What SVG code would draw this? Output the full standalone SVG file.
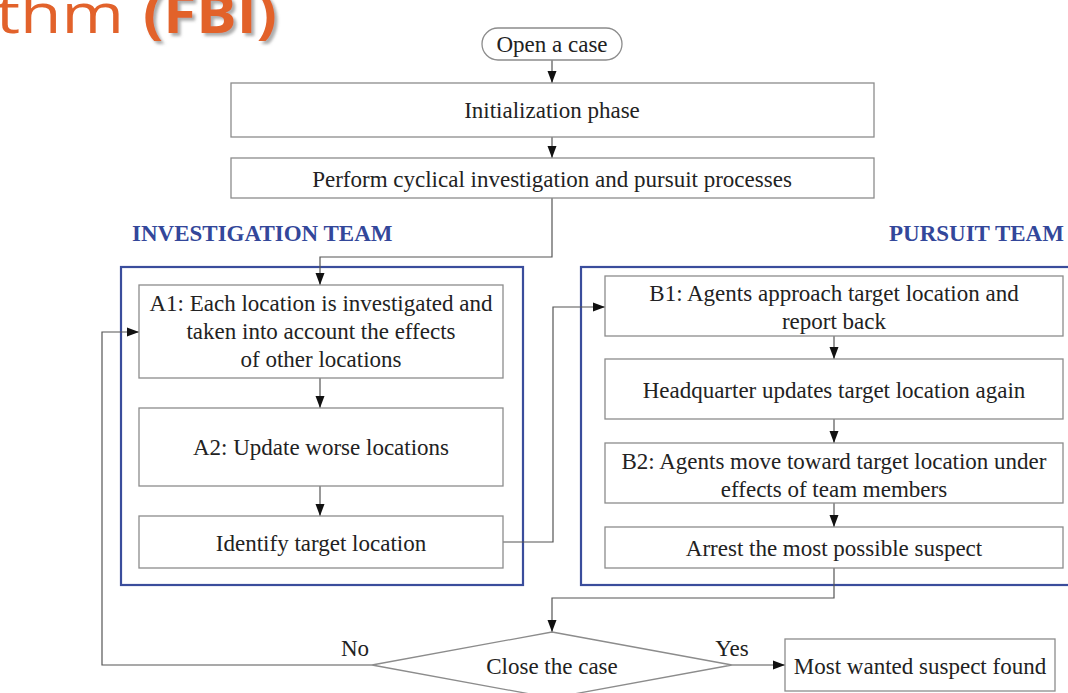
<svg xmlns="http://www.w3.org/2000/svg" width="1068" height="693" viewBox="0 0 1068 693">
<defs>
<marker id="arr" markerUnits="userSpaceOnUse" markerWidth="12" markerHeight="12" viewBox="0 0 12 12" refX="12" refY="6" orient="auto">
<path d="M0,1.5 L12,6 L0,10.5 Z" fill="#111"/>
</marker>
<filter id="sh" x="-10%" y="-10%" width="130%" height="140%">
<feDropShadow dx="3" dy="3" stdDeviation="1.5" flood-color="#777" flood-opacity="0.6"/>
</filter>
<style>
.box{fill:#fff;stroke:#8c8c8c;stroke-width:1.3}
.team{fill:none;stroke:#3a4d9c;stroke-width:2.2}
.t{font-family:"Liberation Serif","Times New Roman",serif;font-size:23px;fill:#222;text-anchor:middle}
.h{font-family:"Liberation Serif","Times New Roman",serif;font-size:23px;font-weight:bold;fill:#33479a}
.c{fill:none;stroke:#555;stroke-width:1.2}
.ca{fill:none;stroke:#555;stroke-width:1.2;marker-end:url(#arr)}
.title{font-family:"Open Sans","DejaVu Sans",sans-serif;font-size:54px;fill:#e2622b}
</style>
</defs>
<rect width="1068" height="693" fill="#fff"/>

<g id="title">
<text class="title" x="-4" y="33" textLength="128" lengthAdjust="spacingAndGlyphs">thm</text>
<text class="title" x="143" y="33" font-weight="bold" filter="url(#sh)" textLength="134" lengthAdjust="spacingAndGlyphs">(FBI)</text>
</g>

<g id="team-labels">
<text class="h" x="132" y="241">INVESTIGATION TEAM</text>
<text class="h" x="889" y="241">PURSUIT TEAM</text>
</g>

<g id="investigation-team"><rect class="team" x="121" y="267" width="402" height="318"/></g>
<g id="pursuit-team"><rect class="team" x="581" y="267" width="500" height="318"/></g>

<g id="connectors">
<line class="ca" x1="552" y1="60" x2="552" y2="83"/>
<line class="ca" x1="552" y1="137" x2="552" y2="158"/>
<polyline class="ca" points="552,198 552,257 320,257 320,285"/>
<line class="ca" x1="320" y1="378" x2="320" y2="408"/>
<line class="ca" x1="320" y1="486" x2="320" y2="516"/>
<polyline class="ca" points="503,542 553,542 553,307 605,307"/>
<line class="ca" x1="834" y1="336" x2="834" y2="359"/>
<line class="ca" x1="834" y1="419" x2="834" y2="443"/>
<line class="ca" x1="834" y1="503" x2="834" y2="527"/>
<polyline class="ca" points="834,568 834,598 552,598 552,632"/>
<polyline class="ca" points="372,665 102,665 102,332 139,332"/>
<line class="ca" x1="732" y1="665" x2="785" y2="665"/>
</g>

<g id="open-case">
<rect class="box" x="482" y="28" width="140" height="32" rx="16" ry="16"/>
<text class="t" x="552" y="52">Open a case</text>
</g>
<g id="init">
<rect class="box" x="231" y="83" width="643" height="54"/>
<text class="t" x="552" y="118">Initialization phase</text>
</g>
<g id="perform">
<rect class="box" x="231" y="158" width="643" height="40"/>
<text class="t" x="552" y="187">Perform cyclical investigation and pursuit processes</text>
</g>
<g id="a1">
<rect class="box" x="139" y="285" width="364" height="93"/>
<text class="t" x="321" y="311">A1: Each location is investigated and</text>
<text class="t" x="321" y="339">taken into account the effects</text>
<text class="t" x="321" y="367">of other locations</text>
</g>
<g id="a2">
<rect class="box" x="139" y="408" width="364" height="78"/>
<text class="t" x="321" y="455">A2: Update worse locations</text>
</g>
<g id="identify">
<rect class="box" x="139" y="516" width="364" height="52"/>
<text class="t" x="321" y="551">Identify target location</text>
</g>
<g id="b1">
<rect class="box" x="605" y="276" width="458" height="60"/>
<text class="t" x="834" y="301">B1: Agents approach target location and</text>
<text class="t" x="834" y="329">report back</text>
</g>
<g id="hq">
<rect class="box" x="605" y="359" width="458" height="60"/>
<text class="t" x="834" y="398">Headquarter updates target location again</text>
</g>
<g id="b2">
<rect class="box" x="605" y="443" width="458" height="60"/>
<text class="t" x="834" y="469">B2: Agents move toward target location under</text>
<text class="t" x="834" y="497">effects of team members</text>
</g>
<g id="arrest">
<rect class="box" x="605" y="527" width="458" height="41"/>
<text class="t" x="834" y="556">Arrest the most possible suspect</text>
</g>
<g id="close">
<polygon class="box" points="552,632 732,665 552,698 372,665"/>
<text class="t" x="552" y="674">Close the case</text>
</g>
<g id="found">
<rect class="box" x="785" y="639" width="270" height="52"/>
<text class="t" x="920" y="674">Most wanted suspect found</text>
</g>
<g id="labels">
<text class="t" x="355" y="656">No</text>
<text class="t" x="732" y="656">Yes</text>
</g>
</svg>
